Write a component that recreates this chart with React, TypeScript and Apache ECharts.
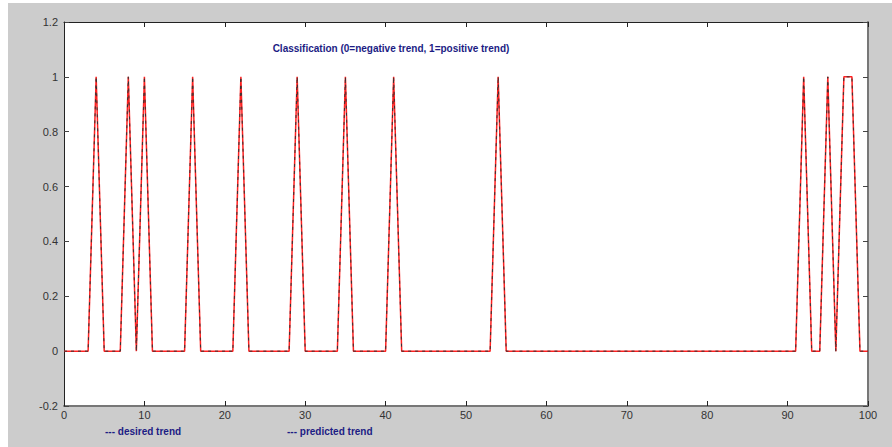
import React, { useEffect, useRef } from "react";
import * as echarts from "echarts";

const xValues: number[] = Array.from({ length: 101 }, (_, i) => i);

const desiredTrend: number[] = [
  0, 0, 0, 0, 1, 0, 0, 0, 1, 0,
  1, 0, 0, 0, 0, 0, 1, 0, 0, 0,
  0, 0, 1, 0, 0, 0, 0, 0, 0, 1,
  0, 0, 0, 0, 0, 1, 0, 0, 0, 0,
  0, 1, 0, 0, 0, 0, 0, 0, 0, 0,
  0, 0, 0, 0, 1, 0, 0, 0, 0, 0,
  0, 0, 0, 0, 0, 0, 0, 0, 0, 0,
  0, 0, 0, 0, 0, 0, 0, 0, 0, 0,
  0, 0, 0, 0, 0, 0, 0, 0, 0, 0,
  0, 0, 1, 0, 0, 1, 0, 1, 1, 0,
  0,
];

const predictedTrend: number[] = [
  0, 0, 0, 0, 1, 0, 0, 0, 1, 0,
  1, 0, 0, 0, 0, 0, 1, 0, 0, 0,
  0, 0, 1, 0, 0, 0, 0, 0, 0, 1,
  0, 0, 0, 0, 0, 1, 0, 0, 0, 0,
  0, 1, 0, 0, 0, 0, 0, 0, 0, 0,
  0, 0, 0, 0, 1, 0, 0, 0, 0, 0,
  0, 0, 0, 0, 0, 0, 0, 0, 0, 0,
  0, 0, 0, 0, 0, 0, 0, 0, 0, 0,
  0, 0, 0, 0, 0, 0, 0, 0, 0, 0,
  0, 0, 1, 0, 0, 1, 0, 1, 1, 0,
  0,
];

const titleText = "Classification (0=negative trend, 1=positive trend)";
const legendDesired = "--- desired trend";
const legendPredicted = "--- predicted trend";

export default function App() {
  const ref = useRef<HTMLDivElement>(null);

  useEffect(() => {
    if (!ref.current) return;
    const chart = echarts.init(ref.current, null, { renderer: "svg" });
    const labelStyle = {
      color: "#333",
      fontFamily: "Liberation Sans, Arial, sans-serif",
      fontSize: 11,
    };
    const navy = "#1c1c84";
    const textFont = "bold 10px 'Liberation Sans', Arial, sans-serif";
    chart.setOption({
      animation: false,
      backgroundColor: "#ffffff",
      graphic: [
        {
          type: "rect",
          z: -10,
          silent: true,
          shape: { x: 8, y: 3, width: 884, height: 444 },
          style: { fill: "#cccccc" },
        },
        {
          type: "text",
          x: 391,
          y: 48,
          style: {
            text: titleText,
            fill: navy,
            font: textFont,
            textAlign: "center",
            textVerticalAlign: "middle",
          },
        },
        {
          type: "text",
          x: 105,
          y: 431,
          style: {
            text: legendDesired,
            fill: navy,
            font: textFont,
            textAlign: "left",
            textVerticalAlign: "middle",
          },
        },
        {
          type: "text",
          x: 287,
          y: 431,
          style: {
            text: legendPredicted,
            fill: navy,
            font: textFont,
            textAlign: "left",
            textVerticalAlign: "middle",
          },
        },
      ],
      grid: {
        left: 64,
        right: 24,
        top: 22,
        bottom: 41,
        show: true,
        backgroundColor: "#ffffff",
        borderWidth: 0,
      },
      xAxis: [
        {
          type: "value",
          min: 0,
          max: 100,
          interval: 10,
          position: "bottom",
          axisLine: { show: true, onZero: false, lineStyle: { color: "#777", width: 2 } },
          axisTick: { show: true, inside: true, length: 5, lineStyle: { color: "#222" } },
          axisLabel: { ...labelStyle, margin: 3 },
          splitLine: { show: false },
        },
        {
          type: "value",
          min: 0,
          max: 100,
          interval: 10,
          position: "top",
          axisLine: { show: true, onZero: false, lineStyle: { color: "#222", width: 1 } },
          axisTick: { show: true, inside: true, length: 5, lineStyle: { color: "#222" } },
          axisLabel: { show: false },
          splitLine: { show: false },
        },
      ],
      yAxis: [
        {
          type: "value",
          min: -0.2,
          max: 1.2,
          interval: 0.2,
          position: "left",
          axisLine: { show: true, onZero: false, lineStyle: { color: "#222", width: 1 } },
          axisTick: { show: true, inside: true, length: 5, lineStyle: { color: "#444" } },
          axisLabel: {
            ...labelStyle,
            margin: 6,
            formatter: (v: number) => String(Math.round(v * 10) / 10),
          },
          splitLine: { show: false },
        },
        {
          type: "value",
          min: -0.2,
          max: 1.2,
          interval: 0.2,
          position: "right",
          axisLine: { show: true, onZero: false, lineStyle: { color: "#777", width: 2 } },
          axisTick: { show: true, inside: true, length: 5, lineStyle: { color: "#444" } },
          axisLabel: { show: false },
          splitLine: { show: false },
        },
      ],
      series: [
        {
          name: "predicted trend",
          type: "line",
          xAxisIndex: 0,
          yAxisIndex: 0,
          data: xValues.map((x, i) => [x, predictedTrend[i]]),
          showSymbol: false,
          lineStyle: { color: "#ff2020", width: 1.5 },
          silent: true,
        },
        {
          name: "desired trend",
          type: "line",
          xAxisIndex: 0,
          yAxisIndex: 0,
          data: xValues.map((x, i) => [x, desiredTrend[i]]),
          showSymbol: false,
          lineStyle: { color: "#333333", width: 1, type: [3, 4] },
          silent: true,
        },
      ],
    });
    return () => chart.dispose();
  }, []);

  return (
    <div
      ref={ref}
      style={{ position: "fixed", left: 0, top: 0, width: 892, height: 447 }}
    />
  );
}
